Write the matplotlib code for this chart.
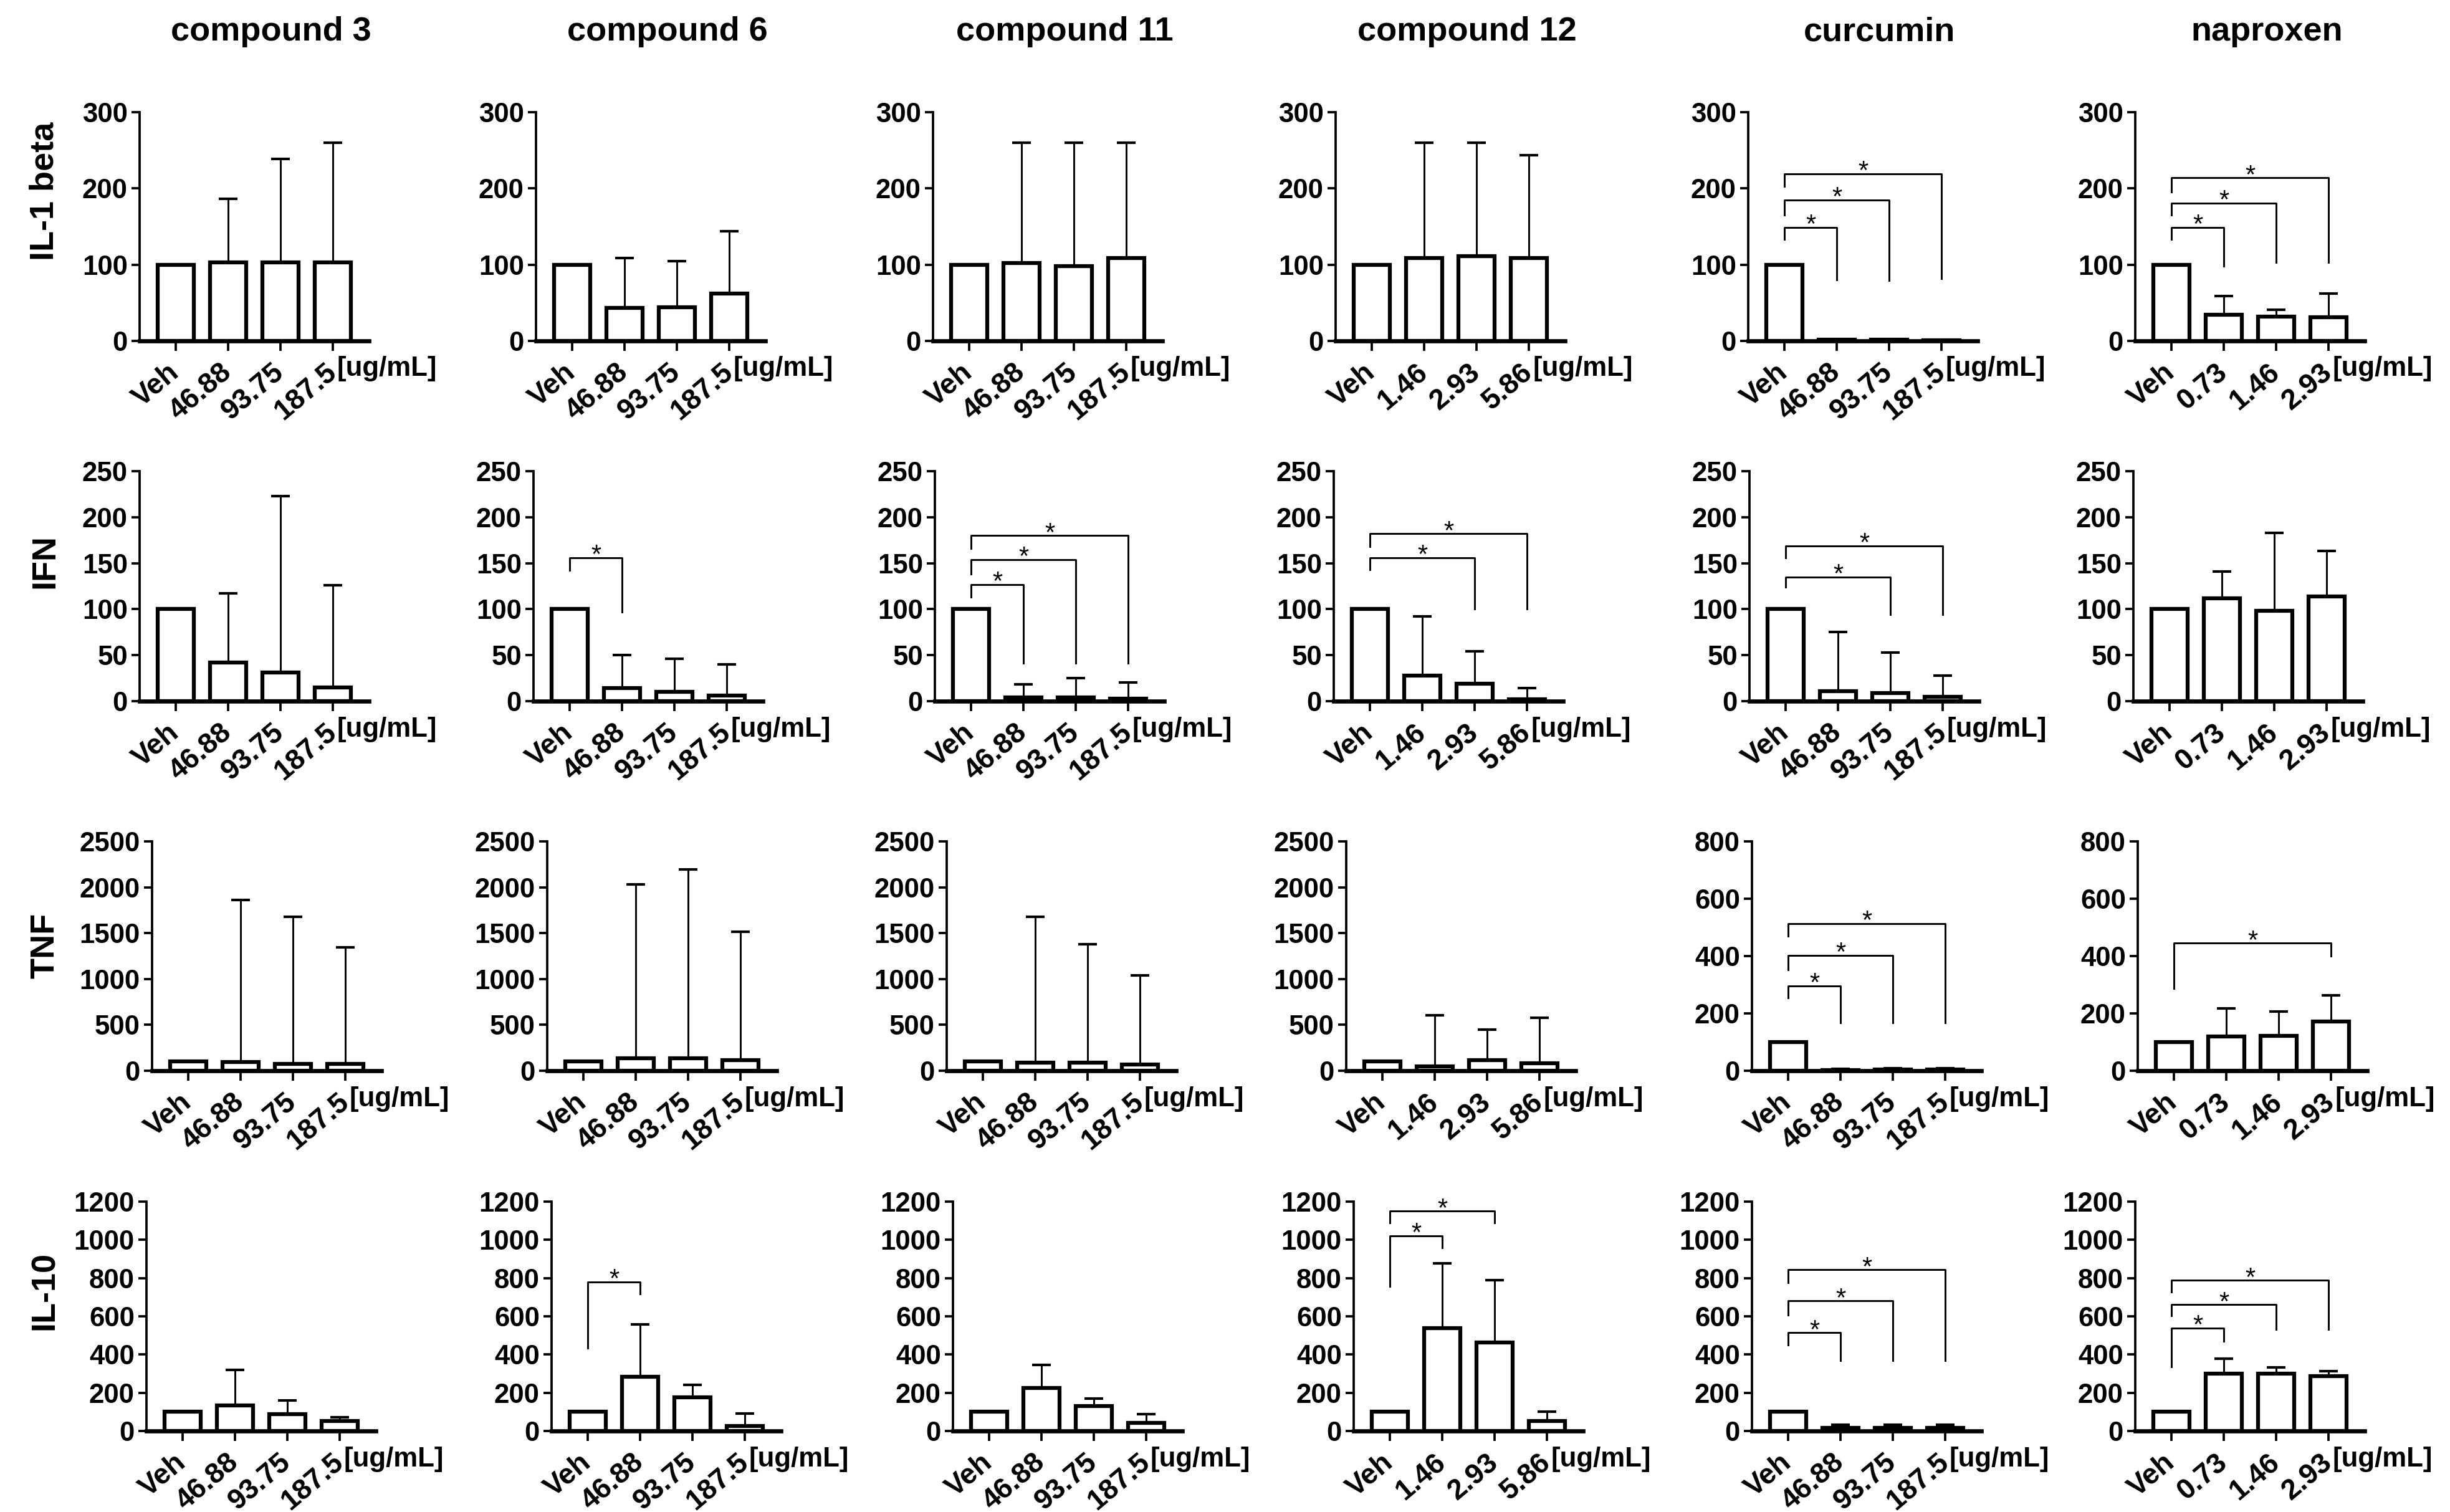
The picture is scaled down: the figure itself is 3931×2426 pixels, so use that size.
import numpy as np
import matplotlib.pyplot as plt

plt.rcParams['font.family'] = ['Liberation Sans', 'DejaVu Sans']
plt.rcParams['font.weight'] = 'bold'

compounds = ['compound 3', 'compound 6', 'compound 11', 'compound 12', 'curcumin', 'naproxen']
cytokines = ['IL-1 beta', 'IFN', 'TNF', 'IL-10']

doses_a = ['Veh', '46.88', '93.75', '187.5']
doses_b = ['Veh', '1.46', '2.93', '5.86']
doses_c = ['Veh', '0.73', '1.46', '2.93']
dose_labels = [doses_a, doses_a, doses_a, doses_b, doses_a, doses_c]
unit = '[ug/mL]'

# mean (% of vehicle) and upper SD, one list per compound
il1_mean = [[100, 103, 103, 103], [100, 43, 44, 62], [100, 102, 98, 109],
            [100, 109, 111, 109], [100, 2, 1.5, 1], [100, 34, 32, 31]]
il1_sd = [[0, 83, 136, 157], [0, 66, 61, 82], [0, 158, 162, 151],
          [0, 151, 149, 135], [0, 0, 0, 0], [0, 25, 9, 31]]

ifn_mean = [[100, 42, 31, 15], [100, 14, 10, 6], [100, 4, 4, 3],
            [100, 28, 19, 2], [100, 11, 9, 5], [100, 112, 98, 114]]
ifn_sd = [[0, 75, 192, 111], [0, 36, 36, 34], [0, 14, 21, 17],
          [0, 64, 35, 12], [0, 64, 44, 23], [0, 29, 85, 49]]

tnf_mean = [[100, 97, 78, 78], [100, 139, 139, 118], [100, 86, 86, 71],
            [100, 45, 118, 79], [100, 3, 5, 5], [100, 119, 122, 172]]
tnf_sd = [[0, 1767, 1597, 1270], [0, 1895, 2052, 1400], [0, 1594, 1294, 968],
          [0, 558, 333, 498], [0, 3, 4, 4], [0, 99, 84, 92]]

il10_mean = [[100, 135, 87, 52], [100, 285, 177, 26], [100, 225, 131, 42],
             [100, 537, 463, 51], [100, 17, 17, 17], [100, 300, 300, 288]]
il10_sd = [[0, 185, 72, 19], [0, 272, 64, 64], [0, 122, 37, 45],
           [0, 339, 327, 50], [0, 17, 17, 17], [0, 79, 32, 25]]

means = [il1_mean, ifn_mean, tnf_mean, il10_mean]
sds = [il1_sd, ifn_sd, tnf_sd, il10_sd]

# y axis (max, step) per panel
y_scales = [[(300, 100)] * 6,
            [(250, 50)] * 6,
            [(2500, 500)] * 4 + [(800, 200)] * 2,
            [(1200, 200)] * 6]

# significance brackets: (from, to, line height, left leg end, right leg end)
brackets = {
    (0, 4): [(0, 1, 149, 133, 80), (0, 2, 185, 165, 79), (0, 3, 219, 203, 82)],
    (0, 5): [(0, 1, 149, 133, 98), (0, 2, 181, 165, 103), (0, 3, 214, 195, 103)],
    (1, 1): [(0, 1, 156, 142, 97)],
    (1, 2): [(0, 1, 127, 113, 41), (0, 2, 154, 138, 41), (0, 3, 180, 166, 41)],
    (1, 3): [(0, 2, 156, 143, 100), (0, 3, 182, 168, 100)],
    (1, 4): [(0, 2, 135, 124, 94), (0, 3, 169, 156, 94)],
    (2, 4): [(0, 1, 296, 254, 168), (0, 2, 403, 353, 168), (0, 3, 514, 470, 168)],
    (2, 5): [(0, 3, 445, 286, 400)],
    (3, 1): [(0, 1, 780, 435, 717)],
    (3, 3): [(0, 1, 1022, 755, 958), (0, 2, 1150, 1090, 1090)],
    (3, 4): [(0, 1, 514, 451, 369), (0, 2, 680, 605, 369), (0, 3, 843, 777, 369)],
    (3, 5): [(0, 1, 539, 335, 469), (0, 2, 661, 602, 533), (0, 3, 788, 726, 533)],
}

# layout in output pixels
W, H = 3931, 2426
col_left = [[224, 860, 1497, 2143, 2805, 3426],
            [224, 856, 1500, 2140, 2807, 3423],
            [244, 878, 1519, 2160, 2811, 3430],
            [235, 885, 1529, 2172, 2811, 3426]]
row_span = [(180, 547), (756, 1125), (1350, 1718), (1928, 2296)]
row_label_y = [307, 900, 1517, 2071]
axw = 368

fig = plt.figure(figsize=(W / 300, H / 300), dpi=300)
fig.patch.set_facecolor('white')

for r in range(4):
    for c in range(6):
        yt, yb = row_span[r]
        ax = fig.add_axes([col_left[r][c] / W, 1 - yb / H, axw / W, (yb - yt) / H])
        x = np.arange(4)
        m = np.array(means[r][c], dtype=float)
        s = np.array(sds[r][c], dtype=float)
        ax.bar(x, m, width=0.68, color='white', edgecolor='black', linewidth=1.5, zorder=3)
        k = s > 0
        if k.any():
            ax.errorbar(x[k], m[k], yerr=[np.zeros(k.sum()), s[k]], fmt='none',
                        ecolor='black', elinewidth=0.7, capsize=3.5, capthick=1.0, zorder=2)
        ymax, step = y_scales[r][c]
        ax.set_ylim(0, ymax)
        ax.set_yticks(np.arange(0, ymax + 1, step))
        ax.set_xlim(-0.69, 3.69)
        ax.set_xticks(x)
        ax.set_xticklabels(dose_labels[c], rotation=40, ha='right', va='center',
                           rotation_mode='anchor')
        ax.spines['top'].set_visible(False)
        ax.spines['right'].set_visible(False)
        ax.spines['left'].set_linewidth(0.9)
        ax.spines['bottom'].set_linewidth(1.6)
        ax.tick_params(axis='y', direction='out', length=3.1, width=0.9, pad=1.5, labelsize=10.5)
        ax.tick_params(axis='x', direction='out', length=3.8, width=0.9, pad=7, labelsize=11)
        ax.patch.set_alpha(0)
        ax.annotate(unit, xy=(3, 0), xycoords='data', xytext=(1.5, -10.8),
                    textcoords='offset points', ha='left', va='center', fontsize=10.5,
                    annotation_clip=False)
        for (i, j, yl, ya, yb2) in brackets.get((r, c), []):
            ax.plot([i, i, j, j], [ya, yl, yl, yb2], color='black', lw=0.7,
                    clip_on=False, zorder=4)
            ax.annotate('*', xy=((i + j) / 2, yl), xytext=(0, -2), textcoords='offset points',
                        ha='center', va='baseline', fontsize=10, fontweight='normal',
                        annotation_clip=False)

for r, name in enumerate(cytokines):
    fig.text(72 / W, 1 - row_label_y[r] / H, name, rotation=90, ha='center', va='center',
             fontsize=13, fontweight='bold')

for c, name in enumerate(compounds):
    xc = col_left[0][c] + axw / 2 + 27
    fig.text(xc / W, 1 - 65 / H, name, ha='center', va='baseline', fontsize=13,
             fontweight='bold')

fig.savefig('out.png', dpi=300)
